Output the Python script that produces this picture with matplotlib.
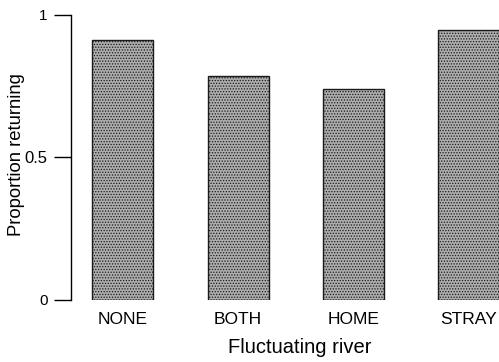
import numpy as np
import matplotlib
matplotlib.use("Agg")
import matplotlib.pyplot as plt

plt.rcParams['font.family'] = ['Liberation Sans', 'DejaVu Sans']
plt.rcParams['hatch.color'] = '#6e6e6e'
plt.rcParams['hatch.linewidth'] = 0.6

# data
rivers = ["NONE", "BOTH", "HOME", "STRAY"]
proportion = [0.912, 0.786, 0.74, 0.947]
yticks = [0, 0.5, 1]
ytick_labels = ["0", "0.5", "1"]

fig = plt.figure(figsize=(4.99, 3.62), dpi=100)
ax = fig.add_axes([0.1423, 0.1713, 0.8577, 0.7873])

x = np.arange(len(rivers))
ax.bar(x, proportion, width=0.53, color="#adadad", edgecolor="#1a1a1a",
       linewidth=1.0, hatch="......")

ax.set_xlim(-0.45, 3.265)
ax.set_ylim(0, 1)

# only the left axis line is shown
for side in ["top", "right", "bottom"]:
    ax.spines[side].set_visible(False)
ax.spines["left"].set_linewidth(1.0)

ax.set_yticks(yticks)
ax.set_yticklabels(ytick_labels)
for lbl, size in zip(ax.get_yticklabels(), [11, 12, 11]):
    lbl.set_fontsize(size)
ax.tick_params(axis="y", direction="out", length=12, width=1.0, pad=5)

ax.set_xticks(x)
ax.set_xticklabels(rivers, fontsize=12.5)
ax.tick_params(axis="x", length=0, pad=9)

ax.set_xlabel("Fluctuating river", fontsize=14.5)
ax.xaxis.set_label_coords(0.535, -0.135)
ax.set_ylabel("Proportion returning", fontsize=13.3)
ax.yaxis.set_label_coords(-0.108, 0.51)

plt.savefig("out.png", dpi=100)
plt.close()
